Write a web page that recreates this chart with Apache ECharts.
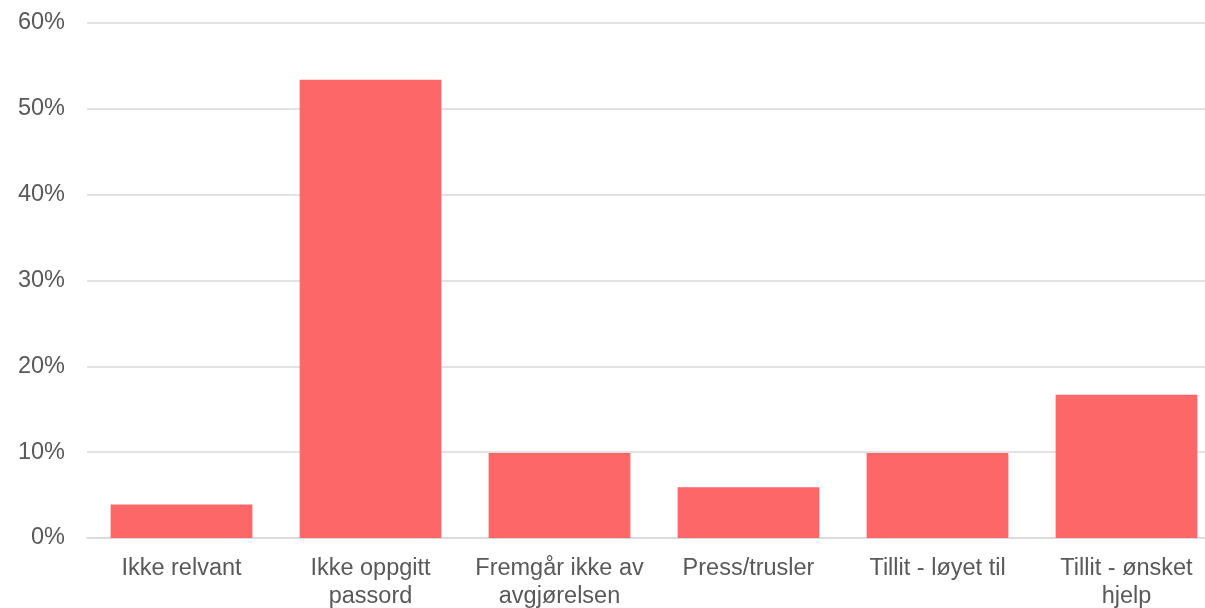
<!DOCTYPE html>
<html>
<head>
<meta charset="utf-8">
<script src="https://cdn.jsdelivr.net/npm/echarts@6/dist/echarts.min.js"></script>
<style>
  html, body { margin: 0; padding: 0; background: #fff; }
  #main { width: 1205px; height: 608px; }
</style>
</head>
<body>
<div id="main"></div>
<script>
// kategorier og verdier (prosent)
var categories = ['Ikke relvant', 'Ikke oppgitt\npassord', 'Fremgår ikke av\navgjørelsen', 'Press/trusler', 'Tillit - løyet til', 'Tillit - ønsket\nhjelp'];
var values = [3.9, 53.4, 9.9, 5.9, 9.9, 16.7];
var yTicks = { min: 0, max: 60, interval: 10 };

var myChart = echarts.init(document.getElementById('main'));
var option = {
    animation: false,
    grid: {
        left: 87,
        top: 23,
        right: -16,
        bottom: 70,
        outerBoundsMode: 'none'
    },
    xAxis: {
        type: 'category',
        data: categories,
        axisTick: { show: false },
        axisLine: { lineStyle: { color: '#d9d9d9', width: 1.5 } },
        axisLabel: {
            color: '#595959',
            fontSize: 23.5,
            lineHeight: 28,
            margin: 17,
            fontFamily: 'Liberation Sans, Arial, sans-serif',
            interval: 0
        }
    },
    yAxis: {
        type: 'value',
        min: yTicks.min,
        max: yTicks.max,
        interval: yTicks.interval,
        axisLabel: {
            formatter: '{value}%',
            color: '#595959',
            fontSize: 23.5,
            margin: 22,
            padding: [3, 0, 0, 0],
            fontFamily: 'Liberation Sans, Arial, sans-serif'
        },
        splitLine: { lineStyle: { color: '#d9d9d9', width: 1.5 } },
        axisLine: { show: false },
        axisTick: { show: false }
    },
    series: [
        {
            type: 'bar',
            data: values,
            barCategoryGap: '25%',
            itemStyle: { color: '#fd6767' }
        }
    ]
};
myChart.setOption(option);
</script>
</body>
</html>
